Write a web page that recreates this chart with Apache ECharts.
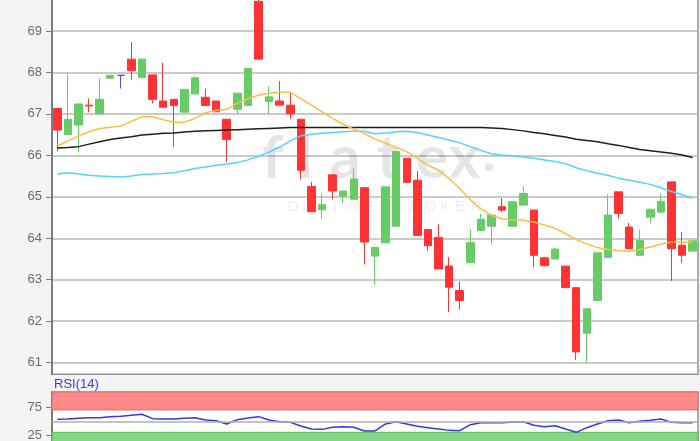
<!DOCTYPE html>
<html><head><meta charset="utf-8">
<script src="https://cdn.jsdelivr.net/npm/echarts@6/dist/echarts.min.js"></script>
<style>html,body{margin:0;padding:0;background:#f4f4f4}#c{width:700px;height:441px}</style>
</head><body><div id="c"></div>
<script>
// ---- data ----
const opens  = [67.13,66.50,66.73,67.21,67.00,67.86,67.93,68.32,67.88,67.94,67.31,67.35,67.04,67.48,67.40,67.31,66.87,67.11,67.20,69.71,67.30,67.31,67.21,66.87,65.25,64.69,65.53,65.02,64.94,65.22,63.57,63.89,64.29,65.93,65.40,64.21,64.02,63.33,62.74,63.41,64.19,64.29,64.76,64.29,64.80,64.68,63.53,63.50,63.33,62.81,61.71,62.50,63.54,65.12,64.27,63.59,64.51,64.63,65.36,63.83,63.69];
const closes = [66.61,66.87,67.24,67.19,67.35,67.93,67.93,68.04,68.32,67.35,67.16,67.20,67.59,67.87,67.20,67.05,66.38,67.50,68.09,68.32,67.41,67.21,67.00,65.64,64.64,64.81,65.14,65.14,65.43,63.91,63.78,65.24,66.09,65.35,64.07,63.82,63.26,62.82,62.50,63.90,64.46,64.56,64.68,64.88,65.08,63.59,63.34,63.74,62.81,61.26,62.30,63.65,64.56,64.60,63.75,63.95,64.70,64.89,63.75,63.59,63.94];
const lows   = [66.10,66.50,66.07,67.04,67.00,67.86,67.61,67.82,67.88,67.25,67.16,66.20,67.04,67.48,67.20,67.05,65.84,66.99,67.20,68.32,67.00,67.21,66.88,65.42,64.64,64.47,64.94,64.85,64.94,63.37,62.88,63.89,64.29,65.35,64.07,63.69,63.26,62.22,62.28,63.41,64.19,63.85,64.63,64.29,64.80,63.31,63.34,63.50,62.81,61.06,61.01,62.50,63.54,64.48,63.75,63.59,64.36,64.63,62.97,63.41,63.69];
const highs  = [67.13,67.99,67.24,67.37,67.85,67.93,67.93,68.73,68.32,67.94,68.23,67.35,67.59,67.90,67.60,67.31,66.87,67.50,68.09,69.90,67.66,67.79,67.51,66.87,65.36,65.08,65.53,65.14,65.68,65.22,63.78,65.24,66.09,65.93,65.62,64.21,64.34,63.55,62.96,64.21,64.59,64.56,64.97,64.88,65.26,64.68,63.53,63.78,63.33,62.81,62.30,63.65,65.06,65.12,64.37,64.21,64.70,65.08,65.36,64.15,63.94];
const maShort = [66.22,66.35,66.47,66.57,66.65,66.68,66.71,66.82,66.93,66.93,66.86,66.80,66.80,66.89,67.03,67.08,67.11,67.26,67.37,67.45,67.50,67.52,67.52,67.37,67.21,67.05,66.89,66.75,66.63,66.53,66.39,66.29,66.19,66.09,65.93,65.76,65.64,65.44,65.20,64.93,64.71,64.55,64.47,64.44,64.44,64.39,64.32,64.24,64.11,63.97,63.86,63.78,63.73,63.70,63.69,63.73,63.79,63.86,63.91,63.91,63.90];
const maMid = [65.55,65.58,65.55,65.52,65.50,65.49,65.48,65.50,65.54,65.55,65.56,65.58,65.63,65.68,65.72,65.76,65.79,65.83,65.89,65.98,66.08,66.20,66.35,66.47,66.51,66.53,66.55,66.57,66.58,66.58,66.52,66.54,66.57,66.58,66.55,66.49,66.43,66.37,66.30,66.21,66.12,66.04,66.01,65.99,65.96,65.93,65.89,65.85,65.80,65.70,65.63,65.57,65.52,65.45,65.40,65.35,65.30,65.22,65.13,65.05,64.96];
const maLong = [66.18,66.19,66.21,66.27,66.33,66.38,66.42,66.45,66.49,66.51,66.53,66.54,66.56,66.58,66.59,66.60,66.61,66.62,66.63,66.64,66.65,66.66,66.67,66.67,66.67,66.67,66.67,66.67,66.67,66.67,66.67,66.67,66.67,66.67,66.67,66.67,66.67,66.67,66.67,66.67,66.67,66.66,66.65,66.62,66.59,66.55,66.52,66.48,66.44,66.39,66.36,66.33,66.28,66.24,66.19,66.14,66.11,66.08,66.05,66.01,65.95];
const rsi = [54.2,54.8,56.0,57.2,57.2,59.0,59.6,61.4,63.2,55.4,54.8,54.8,56.0,57.2,53.0,51.8,45.9,53.6,56.6,59.0,53.0,50.0,48.8,42.3,36.9,36.3,40.0,41.0,40.0,33.4,33.4,45.9,50.0,45.9,41.7,39.3,36.9,34.5,33.9,44.7,48.2,48.2,48.2,49.4,50.0,43.5,41.0,42.9,36.9,31.0,39.3,45.9,51.8,53.0,48.2,50.6,52.4,54.8,48.8,48.2,48.2];
const categories = opens.map((_, i) => 'T' + (i + 1));
const priceTicks = [61, 62, 63, 64, 65, 66, 67, 68, 69];
const rsiTicks = [25, 75];
const rsiBands = { upper: [71, 103], lower: [0, 31], mid: 50 };

const candles = opens.map((o, i) => [o, closes[i], lows[i], highs[i]]);

const chart = echarts.init(document.getElementById('c'));
const font = 'Arial, "Liberation Sans", sans-serif';
const wm = 'rgba(0,0,0,0.10)';
const wmBig = [['f',278],['l',314],['a',346],['t',393],['e',432],['x',465]];
const wmSmall = 'ONLINE BROKER'.split('');
const graphics = [];
wmBig.forEach(([ch, x]) => graphics.push({type:'text', z:1, left:x - 16, top:129, style:{text:ch, fill:wm, font:'bold 60px Lato, sans-serif', width:32, align:'center'}}));
graphics.push({type:'circle', z:1, shape:{cx:489, cy:167, r:4}, style:{fill:wm}});
wmSmall.forEach((ch, i) => graphics.push({type:'text', z:1, left:287 + i*15.3, top:199, style:{text:ch, fill:'rgba(0,0,0,0.07)', font:'15px Arial, sans-serif'}}));
graphics.push({type:'text', left:54, top:378, style:{text:'RSI(14)', fill:'#3a3af0', font:'13px ' + font}});

chart.setOption({
  animation: false,
  backgroundColor: '#f4f4f4',
  graphic: graphics,
  grid: [
    {left:52, right:2, top:-1, height:375.3, outerBoundsMode:'none', containLabel:false, show:true, backgroundColor:'#fff', borderColor:'#939393', borderWidth:1.5},
    {left:52, right:2, top:392, height:57.7, outerBoundsMode:'none', containLabel:false, show:true, backgroundColor:'#fff', borderColor:'#939393', borderWidth:1.5}
  ],
  xAxis: [
    {type:'category', gridIndex:0, data:categories, boundaryGap:true, axisLine:{show:false}, axisTick:{show:false}, axisLabel:{show:false}, splitLine:{show:false}},
    {type:'category', gridIndex:1, data:categories, boundaryGap:true, axisLine:{show:false}, axisTick:{show:false}, axisLabel:{show:false}, splitLine:{show:false}}
  ],
  yAxis: [
    {type:'value', gridIndex:0, min:60.72, max:69.77, scale:true,
     axisLine:{show:true, lineStyle:{color:'#7c7c7c', width:2}},
     axisTick:{show:true, length:6, customValues:priceTicks, lineStyle:{color:'#7c7c7c'}},
     axisLabel:{customValues:priceTicks, color:'#6b6b6b', fontSize:13, fontFamily:font, margin:10},
     splitLine:{show:true, lineStyle:{color:'#b8b8b8', width:1.5}}},
    {type:'value', gridIndex:1, min:0, max:103,
     axisLine:{show:true, lineStyle:{color:'#7c7c7c', width:2}},
     axisTick:{show:true, length:6, customValues:rsiTicks, lineStyle:{color:'#7c7c7c'}},
     axisLabel:{customValues:rsiTicks, color:'#6b6b6b', fontSize:13, fontFamily:font, margin:10},
     splitLine:{show:false}}
  ],
  series: [
    {type:'candlestick', xAxisIndex:0, yAxisIndex:0, data:candles, barWidth:8,
     itemStyle:{color:'#66cc66', color0:'#ff3333', borderColor:'#66cc66', borderColor0:'#ff3333', borderColorDoji:'#6a3fd6', borderWidth:1}},
    {type:'line', xAxisIndex:0, yAxisIndex:0, data:maLong, showSymbol:false, lineStyle:{color:'#1e1e1e', width:1.5}},
    {type:'line', xAxisIndex:0, yAxisIndex:0, data:maMid, showSymbol:false, lineStyle:{color:'#55d2fa', width:1.5}},
    {type:'line', xAxisIndex:0, yAxisIndex:0, data:maShort, showSymbol:false, lineStyle:{color:'#fbbd45', width:1.5}},
    {type:'line', xAxisIndex:1, yAxisIndex:1, data:rsi, showSymbol:false, lineStyle:{color:'#3535f2', width:1.5},
     markArea:{silent:true, data:[
       [{yAxis:rsiBands.upper[0], itemStyle:{color:'#ff8888', borderColor:'#e06a6a', borderWidth:1}}, {yAxis:rsiBands.upper[1]}],
       [{yAxis:rsiBands.lower[0], itemStyle:{color:'#86d486', borderColor:'#5cb85c', borderWidth:1}}, {yAxis:rsiBands.lower[1]}]
     ]},
     markLine:{silent:true, symbol:'none', label:{show:false}, lineStyle:{color:'#b0b0b0', width:1.5, type:'solid'}, data:[{yAxis:rsiBands.mid}]}}
  ]
});
</script></body></html>
